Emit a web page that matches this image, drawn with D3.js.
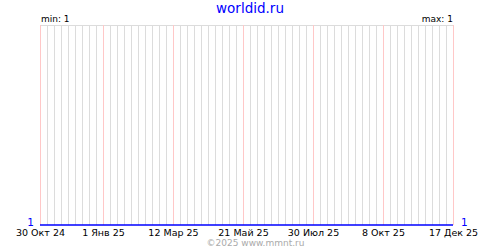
<!DOCTYPE html>
<html>
<head>
<meta charset="utf-8">
<script src="https://cdn.jsdelivr.net/npm/d3@7"></script>
<style>
  body { margin: 0; background: #fff; }
  text { font-family: "DejaVu Sans", sans-serif; }
</style>
</head>
<body>
<div id="chart"></div>
<script>
  // series: visits per day, flat at 1 across the whole period
  const seriesDates = ["2024-10-30", "2025-12-17"];
  const seriesValues = [1, 1];

  const tickDates = ["2024-10-30", "2025-01-01", "2025-03-12", "2025-05-21", "2025-07-30", "2025-10-08", "2025-12-17"];
  const tickLabels = ["30 Окт 24", "1 Янв 25", "12 Мар 25", "21 Май 25", "30 Июл 25", "8 Окт 25", "17 Дек 25"];

  const title = "worldid.ru";
  const minLabel = "min: 1";
  const maxLabel = "max: 1";
  const credit = "©2025 www.mmnt.ru";

  const parse = d3.utcParse("%Y-%m-%d");
  const dates = seriesDates.map(parse);
  const ticks = tickDates.map(parse);

  const width = 500, height = 250;
  const plotLeft = 40, plotRight = 453, plotTop = 25, plotBottom = 225;

  const x = d3.scaleUtc()
    .domain(d3.extent(dates))
    .range([plotLeft, plotRight]);

  const y = d3.scaleLinear()
    .domain([1, 2])
    .range([plotBottom, plotTop]);

  const svg = d3.select('#chart')
    .append('svg')
    .attr('width', width)
    .attr('height', height);

  // weekly grid lines
  const weekly = d3.utcDay.range(dates[0], d3.utcDay.offset(dates[1], 1), 7);

  svg.append('g')
    .selectAll('line')
    .data(weekly)
    .join('line')
    .attr('x1', d => Math.round(x(d)) + 0.5)
    .attr('x2', d => Math.round(x(d)) + 0.5)
    .attr('y1', plotTop)
    .attr('y2', plotBottom)
    .attr('stroke', '#dcdcdc')
    .attr('shape-rendering', 'crispEdges');

  // top border
  svg.append('line')
    .attr('x1', plotLeft).attr('x2', plotRight + 1)
    .attr('y1', plotTop + 0.5).attr('y2', plotTop + 0.5)
    .attr('stroke', '#dcdcdc')
    .attr('shape-rendering', 'crispEdges');

  // label grid lines
  svg.append('g')
    .selectAll('line')
    .data(ticks)
    .join('line')
    .attr('x1', d => Math.round(x(d)) + 0.5)
    .attr('x2', d => Math.round(x(d)) + 0.5)
    .attr('y1', plotTop)
    .attr('y2', plotBottom)
    .attr('stroke', '#ffc8c8')
    .attr('shape-rendering', 'crispEdges');

  // data line
  const valueLine = d3.line()
    .x((d, i) => x(dates[i]))
    .y(d => y(d));

  svg.append('path')
    .datum(seriesValues)
    .attr('d', valueLine)
    .attr('fill', 'none')
    .attr('stroke', '#0000ff')
    .attr('stroke-width', 1.6);

  // x labels
  svg.append('g')
    .selectAll('text')
    .data(ticks)
    .join('text')
    .attr('x', d => x(d) + 0.5)
    .attr('y', 236)
    .attr('text-anchor', 'middle')
    .attr('font-size', '9.5px')
    .attr('fill', '#000')
    .text((d, i) => tickLabels[i]);

  // value labels either side
  svg.append('text')
    .attr('x', 34)
    .attr('y', y(seriesValues[0]) + 1)
    .attr('text-anchor', 'end')
    .attr('font-size', '10.5px')
    .attr('fill', '#0000ff')
    .text(seriesValues[0]);

  svg.append('text')
    .attr('x', 461)
    .attr('y', y(seriesValues[seriesValues.length - 1]) + 1)
    .attr('font-size', '10.5px')
    .attr('fill', '#0000ff')
    .text(seriesValues[seriesValues.length - 1]);

  svg.append('text')
    .attr('x', 41)
    .attr('y', 22)
    .attr('font-size', '9px')
    .attr('fill', '#000')
    .text(minLabel);

  svg.append('text')
    .attr('x', 453)
    .attr('y', 22)
    .attr('text-anchor', 'end')
    .attr('font-size', '9px')
    .attr('fill', '#000')
    .text(maxLabel);

  svg.append('text')
    .attr('x', 250)
    .attr('y', 13)
    .attr('text-anchor', 'middle')
    .attr('font-size', '13.5px')
    .attr('fill', '#0000ff')
    .text(title);

  svg.append('text')
    .attr('x', 255.5)
    .attr('y', 246)
    .attr('text-anchor', 'middle')
    .attr('font-size', '9px')
    .attr('fill', '#aaaaaa')
    .text(credit);
</script>
</body>
</html>
